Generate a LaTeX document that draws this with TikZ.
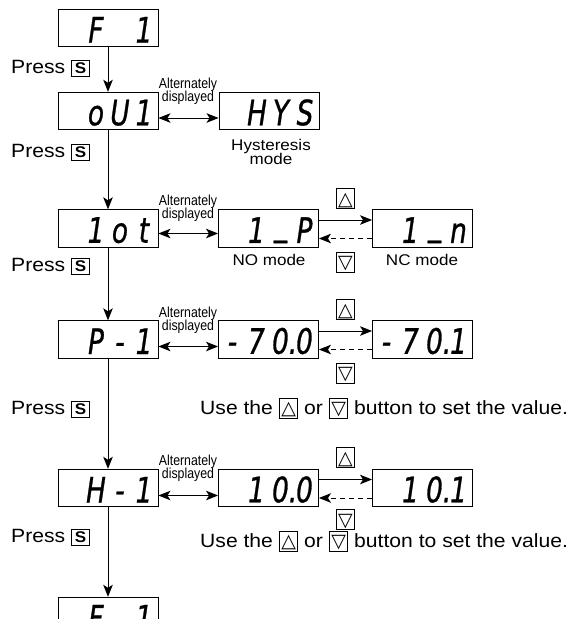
\documentclass[tikz,border=0pt]{standalone}
\usepackage{fontspec}
\setmainfont[FakeStretch=1.1]{Liberation Sans}
\newfontfamily\narrowfont[FakeStretch=0.85]{Liberation Sans}
\newfontfamily\segfont[FakeStretch=0.75,FakeBold=0.8]{DejaVu Sans}
\newfontfamily\symfont{DejaVu Sans}
\usetikzlibrary{arrows.meta}
\newcommand\dc[1]{\makebox[24pt][c]{#1}}
\newcommand\ub{\raisebox{8pt}{\_}}
\newcommand\dsp[4]{\rule{0pt}{29pt}\dc{#1}\dc{#2}\dc{#3}\dc{#4}}
\newcommand\keybox[4]{{\setlength\fboxsep{0pt}\setlength\fboxrule{0.9pt}\framebox[#1][c]{\rule[#2]{0pt}{#3}#4}}}
\newcommand\sbtn{\keybox{19pt}{-2.5pt}{15pt}{\fontsize{15.5}{15}\selectfont\bfseries S}}
\newcommand\upbtn{\keybox{19.5pt}{-3pt}{19pt}{\symfont\fontsize{19}{19}\selectfont △}}
\newcommand\dnbtn{\keybox{19.5pt}{-3pt}{19pt}{\symfont\fontsize{19}{19}\selectfont ▽}}
\begin{document}
\begin{tikzpicture}[x=1pt,y=-1pt,
  disp/.style={draw, line width=0.9pt, minimum width=100pt, minimum height=37.5pt, inner sep=0pt,
    font=\segfont\itshape\fontsize{35}{35}\selectfont},
  lbl/.style={inner sep=0pt, font=\fontsize{19.2}{20}\selectfont},
  sm/.style={inner sep=0pt, font=\fontsize{15.5}{16}\selectfont},
  alt/.style={inner sep=0pt, font=\narrowfont\fontsize{14.5}{14.5}\selectfont},
  tip/.tip={Stealth[length=12pt,width=9.5pt,inset=3pt]},
  arr/.style={line width=0.9pt, -tip},
  darr/.style={line width=0.9pt, tip-tip},
  dsh/.style={arr, dash pattern=on 5pt off 4pt},
  btn/.style={inner sep=0pt}]
\useasboundingbox (0,0) rectangle (577,619);
\clip (0,0) rectangle (577,619);

% left column
\node[disp] (b1) at (108,28) {\dsp{}{F}{}{1}};
\node[disp] (b2) at (108,111) {\dsp{}{o}{U}{1}};
\node[disp] (b3) at (108,228.5) {\dsp{}{1}{o}{t}};
\node[disp] (b4) at (108,339.5) {\dsp{}{P}{-}{1}};
\node[disp] (b5) at (108,488) {\dsp{}{H}{-}{1}};
\node[disp] (b6) at (108,616) {\dsp{}{F}{}{1}};

% press labels
\node[lbl,anchor=west] (p1) at (11,68) {Press\hspace{6pt}\sbtn};
\node[lbl,anchor=west] (p2) at (11,152) {Press\hspace{6pt}\sbtn};
\node[lbl,anchor=west] (p3) at (11,266) {Press\hspace{6pt}\sbtn};
\node[lbl,anchor=west] (p4) at (11,409) {Press\hspace{6pt}\sbtn};
\node[lbl,anchor=west] (p5) at (11,537) {Press\hspace{6pt}\sbtn};

% row 2
\node[disp] (h2) at (269,111) {\dsp{}{H}{Y}{S}};
\node[sm,anchor=base] (hy1) at (271,150) {Hysteresis};
\node[sm,anchor=base] (hy2) at (271,164) {mode};
\node[alt,anchor=base] (a2) at (188,88.5) {Alternately};
\node[alt,anchor=base] (a2b) at (188,101.5) {displayed};

% row 3
\node[disp] (r3) at (268.5,228.5) {\dsp{}{1}{\ub}{P}};
\node[disp] (n3) at (422.5,228.5) {\dsp{}{1}{\ub}{n}};
\node[sm,anchor=base] (no) at (269,265) {NO mode};
\node[sm,anchor=base] (nc) at (422,265) {NC mode};
\node[btn] (u3) at (345.5,198.5) {\upbtn};
\node[btn] (d3) at (345.5,262) {\dnbtn};
\node[alt,anchor=base] (a3) at (188,205.5) {Alternately};
\node[alt,anchor=base] (a3b) at (188,218.5) {displayed};

% row 4
\node[disp] (r4) at (268.5,339.5) {\dsp{-}{7}{0\rlap{.}}{0}};
\node[disp] (n4) at (422.5,339.5) {\dsp{-}{7}{0\rlap{.}}{1}};
\node[btn] (u4) at (345.5,309.5) {\upbtn};
\node[btn] (d4) at (345.5,373) {\dnbtn};
\node[alt,anchor=base] (a4) at (188,317.5) {Alternately};
\node[alt,anchor=base] (a4b) at (188,330.5) {displayed};
\node[lbl,anchor=west] (t4) at (200,408) {Use the \upbtn{} or \dnbtn{} button to set the value.};

% row 5
\node[disp] (r5) at (268.5,488) {\dsp{}{1}{0\rlap{.}}{0}};
\node[disp] (n5) at (422.5,488) {\dsp{}{1}{0\rlap{.}}{1}};
\node[btn] (u5) at (345.5,457.5) {\upbtn};
\node[btn] (d5) at (345.5,519.5) {\dnbtn};
\node[alt,anchor=base] (a5) at (188,465.5) {Alternately};
\node[alt,anchor=base] (a5b) at (188,478.5) {displayed};
\node[lbl,anchor=west] (t5) at (200,541) {Use the \upbtn{} or \dnbtn{} button to set the value.};

% connectors
\draw[arr] (b1) -- (b2);
\draw[arr] (b2) -- (b3);
\draw[arr] (b3) -- (b4);
\draw[arr] (b4) -- (b5);
\draw[arr] (b5) -- (b6);

\draw[darr] ([yshift=-7pt]b2.east) -- ([yshift=-7pt]h2.west);
\draw[darr] ([yshift=-5pt]b3.east) -- ([yshift=-5pt]r3.west);
\draw[darr] ([yshift=-7pt]b4.east) -- ([yshift=-7pt]r4.west);
\draw[darr] ([yshift=-7.5pt]b5.east) -- ([yshift=-7.5pt]r5.west);

\draw[arr] ([yshift=8.5pt]r3.east) -- ([yshift=8.5pt]n3.west);
\draw[dsh] ([yshift=-10pt]n3.west) -- ([yshift=-10pt]r3.east);
\draw[arr] ([yshift=8.5pt]r4.east) -- ([yshift=8.5pt]n4.west);
\draw[dsh] ([yshift=-10pt]n4.west) -- ([yshift=-10pt]r4.east);
\draw[arr] ([yshift=8.5pt]r5.east) -- ([yshift=8.5pt]n5.west);
\draw[dsh] ([yshift=-10pt]n5.west) -- ([yshift=-10pt]r5.east);
\end{tikzpicture}
\end{document}
